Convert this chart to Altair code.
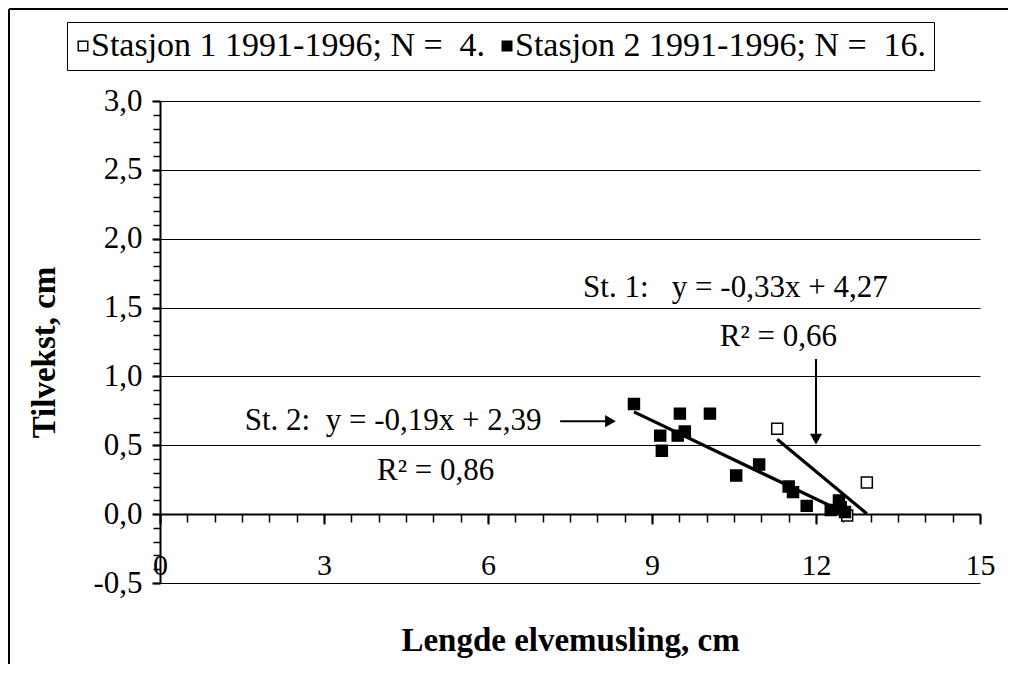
import altair as alt
import pandas as pd

# ---------------- data ----------------
series = ["Stasjon 1 1991-1996; N = \u00a04.", "Stasjon 2 1991-1996; N = \u00a016."]

st1_x = [11.29, 12.93, 12.57, 12.45]
st1_y = [0.62, 0.23, -0.01, 0.05]

st2_x = [8.67, 9.15, 9.18, 9.47, 9.51, 9.60, 10.06, 10.54, 10.96, 11.50, 11.58, 11.83, 12.27, 12.42, 12.45, 12.53]
st2_y = [0.80, 0.57, 0.46, 0.57, 0.73, 0.60, 0.73, 0.28, 0.36, 0.20, 0.16, 0.06, 0.03, 0.10, 0.05, 0.015]

fit_slope = [-0.33, -0.19]
fit_intercept = [4.27, 2.39]

x_major = [0, 3, 6, 9, 12, 15]
x_minor = [i * 0.5 for i in range(31)]
y_major = [-0.5, 0.0, 0.5, 1.0, 1.5, 2.0, 2.5, 3.0]
y_minor = [round(-0.5 + i * 0.1, 1) for i in range(36)]

ann_text = ["St. 1:\u00a0\u00a0 y = -0,33x + 4,27", "R\u00b2 = 0,66",
            "St. 2:\u00a0 y = -0,19x + 2,39", "R\u00b2 = 0,86"]
ann_x = [7.74, 10.24, 1.55, 3.97]
ann_y = [1.576, 1.22, 0.61, 0.247]

arrow_x = [12.0, 7.32]
arrow_x2 = [12.0, 8.25]
arrow_y = [1.126, 0.675]
arrow_y2 = [0.55, 0.675]
head_x = [12.0, 8.24]
head_y = [0.545, 0.675]
head_shape = ["triangle-down", "triangle-right"]

# ---------------- tables ----------------
pts = pd.DataFrame({
    "x": st1_x + st2_x,
    "y": st1_y + st2_y,
    "series": [series[0]] * len(st1_x) + [series[1]] * len(st2_x),
})

line_rows = []
for s, xs_, m, b in zip(series, [st1_x, st2_x], fit_slope, fit_intercept):
    for xv in (min(xs_), max(xs_)):
        line_rows.append({"x": xv, "y": m * xv + b, "series": s})
lines = pd.DataFrame(line_rows)

ann = pd.DataFrame({"x": ann_x, "y": ann_y, "t": ann_text})
arrows = pd.DataFrame({"x": arrow_x, "x2": arrow_x2, "y": arrow_y, "y2": arrow_y2})
heads = pd.DataFrame({"x": head_x, "y": head_y, "s": head_shape})

FONT = "Liberation Serif"
xs = alt.Scale(domain=[0, 15], nice=False, zero=False)
ys = alt.Scale(domain=[-0.5, 3.0], nice=False, zero=False)

ylabel = "(datum.value < 0 ? '-' : '') + replace(format(abs(datum.value), '.1f'), '.', ',')"

x_axis_major = alt.Axis(
    orient="bottom", offset=-69, values=x_major, format="d", labelFlush=False,
    tickSize=10, tickWidth=2, tickColor="black", domainColor="black", domainWidth=2,
    labelFont=FONT, labelFontSize=30, labelColor="black", labelPadding=26,
    grid=False, title="Lengde elvemusling, cm", titleFont=FONT, titleFontSize=33,
    titleFontWeight="bold", titleColor="black", titlePadding=44,
)
x_axis_minor = alt.Axis(
    orient="bottom", offset=-69, values=x_minor, labels=False, domain=False, grid=False,
    tickSize=8, tickWidth=1.5, tickColor="black", title=None,
)
y_axis_major = alt.Axis(
    orient="left", values=y_major, labelExpr=ylabel, labelFlush=False,
    tickSize=8, tickWidth=2, tickColor="black", domainColor="black", domainWidth=2,
    grid=True, gridColor="black", gridWidth=1, gridOpacity=1,
    labelFont=FONT, labelFontSize=31, labelColor="black", labelPadding=10,
    title="Tilvekst, cm", titleFont=FONT, titleFontSize=33, titleFontWeight="bold",
    titleColor="black", titlePadding=31, titleY=251,
)
y_axis_minor = alt.Axis(
    orient="left", values=y_minor, labels=False, domain=False, grid=False,
    tickSize=7, tickWidth=1.5, tickColor="black", title=None,
)

frame_df = pd.DataFrame({"a": [0]})
frame_top = alt.Chart(frame_df).mark_rule(color="black", strokeWidth=2).encode(
    x=alt.value(-151), x2=alt.value(900), y=alt.value(-92)
)
frame_left = alt.Chart(frame_df).mark_rule(color="black", strokeWidth=2).encode(
    x=alt.value(-151), y=alt.value(-92), y2=alt.value(700)
)

minor = alt.Chart(pts).mark_point(opacity=0).encode(
    x=alt.X("x:Q", scale=xs, axis=x_axis_minor),
    y=alt.Y("y:Q", scale=ys, axis=y_axis_minor),
)

line_layer = alt.Chart(lines).mark_line(color="black", strokeWidth=3.2).encode(
    x=alt.X("x:Q", scale=xs, axis=None),
    y=alt.Y("y:Q", scale=ys, axis=None),
    detail="series:N",
)

points = alt.Chart(pts).mark_point(
    shape="square", size=120, filled=True, stroke="black", strokeWidth=1.5, opacity=1
).encode(
    x=alt.X("x:Q", scale=xs, axis=x_axis_major),
    y=alt.Y("y:Q", scale=ys, axis=y_axis_major),
    fill=alt.Fill(
        "series:N",
        scale=alt.Scale(domain=series, range=["white", "black"]),
        legend=alt.Legend(
            title=None, orient="none", legendX=-93, legendY=-79, direction="horizontal",
            symbolType="square", symbolSize=90, symbolStrokeColor="black",
            symbolStrokeWidth=1.5, symbolOpacity=1, symbolOffset=-8,
            labelFont=FONT, labelFontSize=34, labelColor="black",
            labelOffset={"expr": "-9"},
            labelLimit=0, padding=7, columnPadding=12,
            strokeColor="black", fillColor="white",
        ),
    ),
    order=alt.Order("series:N"),
)

ann_layer = alt.Chart(ann).mark_text(
    align="left", baseline="alphabetic", font=FONT, fontSize=31, color="black"
).encode(
    x=alt.X("x:Q", scale=xs, axis=None),
    y=alt.Y("y:Q", scale=ys, axis=None),
    text="t:N",
)

arrow_layer = alt.Chart(arrows).mark_rule(color="black", strokeWidth=2).encode(
    x=alt.X("x:Q", scale=xs, axis=None),
    x2="x2:Q",
    y=alt.Y("y:Q", scale=ys, axis=None),
    y2="y2:Q",
)

head_layer = alt.Chart(heads).mark_point(filled=True, color="black", size=150, opacity=1).encode(
    x=alt.X("x:Q", scale=xs, axis=None),
    y=alt.Y("y:Q", scale=ys, axis=None),
    shape=alt.Shape("s:N", scale=None),
)

chart = alt.layer(
    frame_top, frame_left, minor, line_layer, points, ann_layer, arrow_layer, head_layer
).resolve_axis(
    x="independent", y="independent"
).properties(
    width=820, height=482,
    autosize=alt.AutoSizeParams(type="none"),
    padding={"left": 152, "top": 93, "right": 28, "bottom": 81},
    background="white",
).configure(
    font=FONT
).configure_view(strokeWidth=0)

chart.save("out.html", embed_options={"renderer": "svg", "actions": False})
